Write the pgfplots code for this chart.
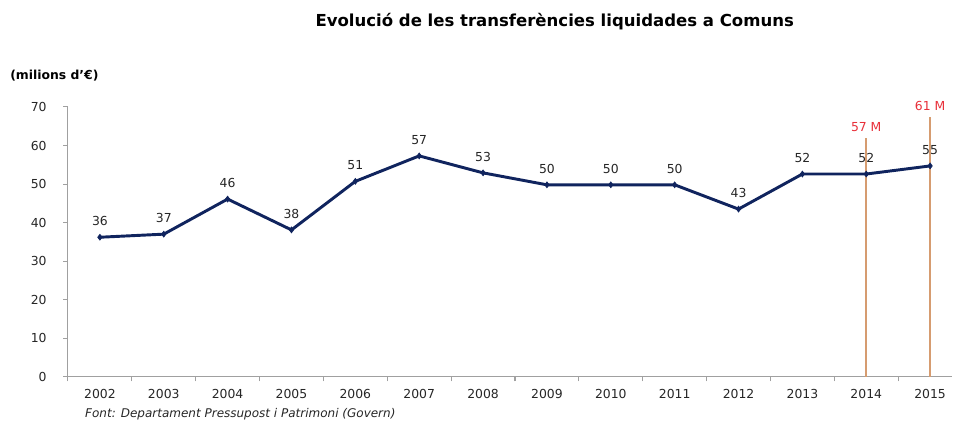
\documentclass[border=0pt]{standalone}
\usepackage{fontspec}
\setmainfont{DejaVu Sans}
\usepackage{pgfplots}
\pgfplotsset{compat=1.18}
\definecolor{navy}{RGB}{16,36,94}
\definecolor{tan}{RGB}{214,156,112}
\definecolor{redlab}{RGB}{232,48,58}
\definecolor{axgray}{RGB}{160,160,160}

\begin{document}
\begin{tikzpicture}
% frame of the picture: 953x424 px at 0.75pt/px, axis origin at (68,377) px
\path (-51pt,-35.25pt) rectangle (663.75pt,282.75pt);
\begin{axis}[
  at={(0,0)}, anchor=south west,
  scale only axis, width=663.75pt, height=202.5pt,
  xmin=-0.5, xmax=13.35, ymin=0, ymax=70,
  axis x line*=bottom, axis y line*=left,
  axis line style={draw=axgray, line width=0.8pt},
  tick style={draw=axgray, line width=0.8pt},
  tick align=outside,
  ytick={0,10,...,70},
  xtick={0,...,13},
  xticklabels={2002,2003,2004,2005,2006,2007,2008,2009,2010,2011,2012,2013,2014,2015},
  major x tick style={draw=none},
  minor xtick={-0.5,0.5,...,12.5},
  major tick length=3.5pt, minor tick length=3.5pt,
  /pgf/number format/assume math mode=true,
  tick label style={font=\fontsize{9.3}{10}\selectfont, text=black!85},
  yticklabel style={xshift=-9pt},
  xticklabel style={yshift=-2pt},
  clip=false,
]
\addplot[navy, line width=2.2pt, mark=diamond*, mark size=2.2pt,
  mark options={line width=0.5pt},
  nodes near coords, point meta=explicit symbolic,
  every node near coord/.append style={font=\fontsize{9.3}{10}\selectfont, text=black!85, yshift=5pt}]
  coordinates {
  (0,36.2)[36] (1,37.0)[37] (2,46.1)[46] (3,38.1)[38] (4,50.7)[51]
  (5,57.3)[57] (6,52.9)[53] (7,49.8)[50] (8,49.8)[50] (9,49.8)[50]
  (10,43.5)[43] (11,52.6)[52] (12,52.6)[52] (13,54.7)[55]
};
\addplot[ycomb, tan, line width=1.2pt, mark=none,
  nodes near coords, point meta=explicit symbolic,
  every node near coord/.append style={font=\fontsize{9.3}{10}\selectfont, text=redlab, yshift=1pt}]
  coordinates {(12,62.0)[57 M] (13,67.4)[61 M]};
\end{axis}
\node[font=\bfseries\fontsize{12.4}{14}\selectfont] at (365.25pt,266.25pt)
  {Evolució de les transferències liquidades a Comuns};
\node[font=\bfseries\fontsize{9.3}{10}\selectfont, anchor=west, inner sep=0pt] at (-43.5pt,225.75pt)
  {(milions d'€)};
\node[font=\itshape\fontsize{9}{10}\selectfont, anchor=west, inner sep=0pt, text=black!85] at (12.75pt,-27.75pt)
  {Font: Departament Pressupost i Patrimoni (Govern)};
\end{tikzpicture}
\end{document}
